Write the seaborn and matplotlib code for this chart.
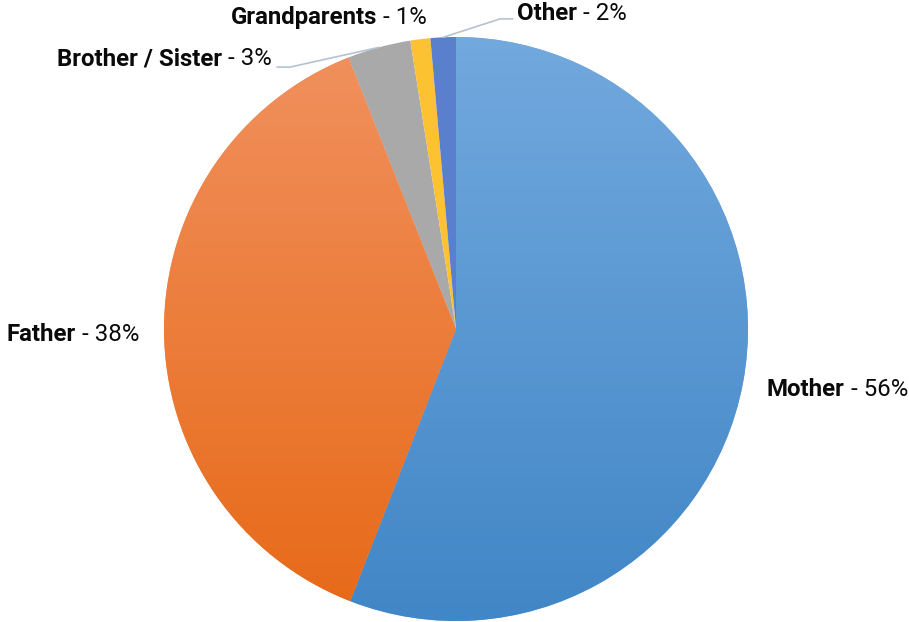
import numpy as np
import seaborn as sns
import matplotlib.pyplot as plt
from matplotlib.colors import LinearSegmentedColormap

sns.set_theme(style="white")
plt.rcParams['font.family'] = ['Roboto', 'DejaVu Sans']

# data
labels = ["Mother", "Father", "Brother / Sister", "Grandparents", "Other"]
values = [55.9, 38.1, 3.5, 1.1, 1.4]
shown = ["56%", "38%", "3%", "1%", "2%"]

# fills: (top, bottom) gradient for the two big slices, flat for the rest
grad_cols = {"Mother": ("#72a9de", "#4186c6"), "Father": ("#f1915f", "#e76917")}
flat_cols = {"Brother / Sister": "#a9a9a9", "Grandparents": "#fdc232", "Other": "#5a7fcc"}

fig = plt.figure(figsize=(9.09, 6.22), dpi=100)
ax = fig.add_axes([0, 0, 1, 1])

colors = [flat_cols.get(l, grad_cols.get(l, ("#000",))[0]) for l in labels]
wedges, _ = ax.pie(values, colors=colors, startangle=90, counterclock=False,
                   radius=1, wedgeprops=dict(linewidth=0))

grad = np.linspace(0, 1, 256).reshape(-1, 1)
for w, l in zip(wedges, labels):
    if l in grad_cols:
        cmap = LinearSegmentedColormap.from_list(l, list(grad_cols[l]))
        im = ax.imshow(grad, cmap=cmap, extent=(-1, 1, -1, 1), origin="upper",
                       aspect="auto", zorder=w.get_zorder() + 0.1)
        im.set_clip_path(w)

ax.set_xlim(-456 / 292, 453 / 292)
ax.set_ylim(-293 / 292, 329 / 292)
ax.set_aspect("auto")
ax.axis("off")

fs = 17.3
txt_col = "#0a0a0a"
line_col = "#b6c2d2"


def put_label(i, x, y, ha):
    if ha == "left":
        t = ax.text(x, y, labels[i], fontsize=fs, fontweight="bold", ha="left",
                    va="center", color=txt_col)
        ax.annotate(" - " + shown[i], xy=(1, 0.5), xycoords=t, ha="left",
                    va="center", fontsize=fs, color=txt_col)
    else:
        t = ax.text(x, y, " - " + shown[i], fontsize=fs, ha="right",
                    va="center", color=txt_col)
        ax.annotate(labels[i], xy=(0, 0.5), xycoords=t, ha="right",
                    va="center", fontsize=fs, fontweight="bold", color=txt_col)


def edge_point(w):
    mid = np.deg2rad((w.theta1 + w.theta2) / 2)
    return np.cos(mid), np.sin(mid)


# big slices
put_label(0, 1.065, -0.207, "left")
put_label(1, -1.086, -0.018, "right")

# brother / sister with leader
ex, ey = edge_point(wedges[2])
ax.plot([ex, -0.568, -0.613], [ey, 0.897, 0.897], color=line_col, lw=1.2)
put_label(2, -0.63, 0.925, "right")

# grandparents
put_label(3, -0.099, 1.068, "right")

# other with leader
ex, ey = edge_point(wedges[4])
ax.plot([ex, 0.151, 0.195], [ey, 1.062, 1.062], color=line_col, lw=1.2)
put_label(4, 0.209, 1.079, "left")

fig.savefig("out.png", dpi=100)
